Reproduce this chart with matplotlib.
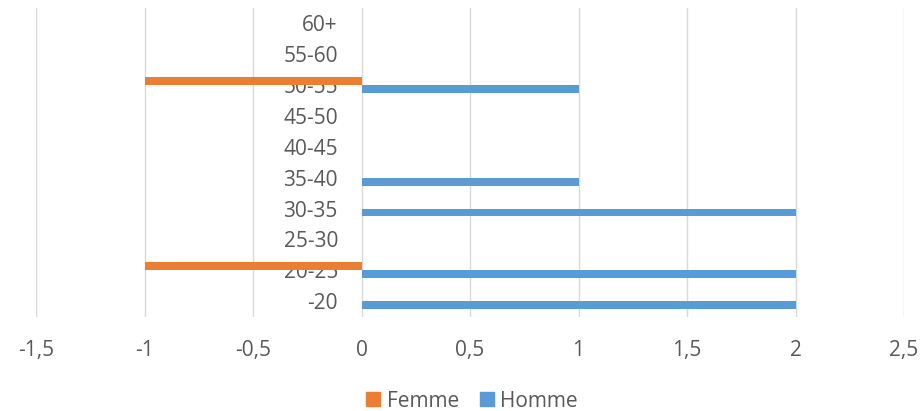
import numpy as np
import matplotlib.pyplot as plt
from matplotlib.patches import Patch

# age groups, bottom to top
categories = ['-20', '20-25', '25-30', '30-35', '35-40', '40-45', '45-50', '50-55', '55-60', '60+']
femme = [0, -1, 0, 0, 0, 0, 0, -1, 0, 0]
homme = [2, 2, 0, 2, 1, 0, 0, 1, 0, 0]
xticks = [-1.5, -1, -0.5, 0, 0.5, 1, 1.5, 2, 2.5]
xtick_labels = ['-1,5', '-1', '-0,5', '0', '0,5', '1', '1,5', '2', '2,5']

orange = '#ED7D31'
blue = '#5B9BD5'
text_col = '#595959'
grid_col = '#D9D9D9'

plt.rcParams['font.family'] = ['Open Sans', 'DejaVu Sans']

fig = plt.figure(figsize=(9.22, 4.11), dpi=100)
ax = fig.add_axes([36 / 922, 1 - 316.5 / 411, 868 / 922, 308.5 / 411])

y = np.arange(len(categories))
h = 0.258
ax.barh(y + h / 2, femme, height=h, color=orange, zorder=3, label='Femme')
ax.barh(y - h / 2, homme, height=h, color=blue, zorder=3, label='Homme')

ax.set_xlim(-1.5, 2.5)
ax.set_ylim(-0.5, len(categories) - 0.5)
ax.set_xticks(xticks)
ax.set_xticklabels(xtick_labels)
ax.set_yticks(y)
ax.set_yticklabels(categories)

ax.grid(axis='x', color=grid_col, linewidth=1.0, zorder=0)
ax.set_axisbelow(True)

for s in ['top', 'right', 'bottom']:
    ax.spines[s].set_visible(False)
ax.spines['left'].set_position(('data', 0))
ax.spines['left'].set_color('none')

ax.tick_params(axis='x', length=0, pad=17, labelsize=15, labelcolor=text_col)
ax.tick_params(axis='y', length=0, pad=17, labelsize=15, labelcolor=text_col)

handles = [Patch(color=orange, label='Femme'), Patch(color=blue, label='Homme')]
fig.legend(handles=handles, loc='center', bbox_to_anchor=(472 / 922, 1 - 401 / 411),
           ncol=2, frameon=False, fontsize=15, labelcolor=text_col,
           handlelength=0.67, handleheight=0.67, handletextpad=0.3, columnspacing=1.0)

fig.savefig('out.png', dpi=100)
